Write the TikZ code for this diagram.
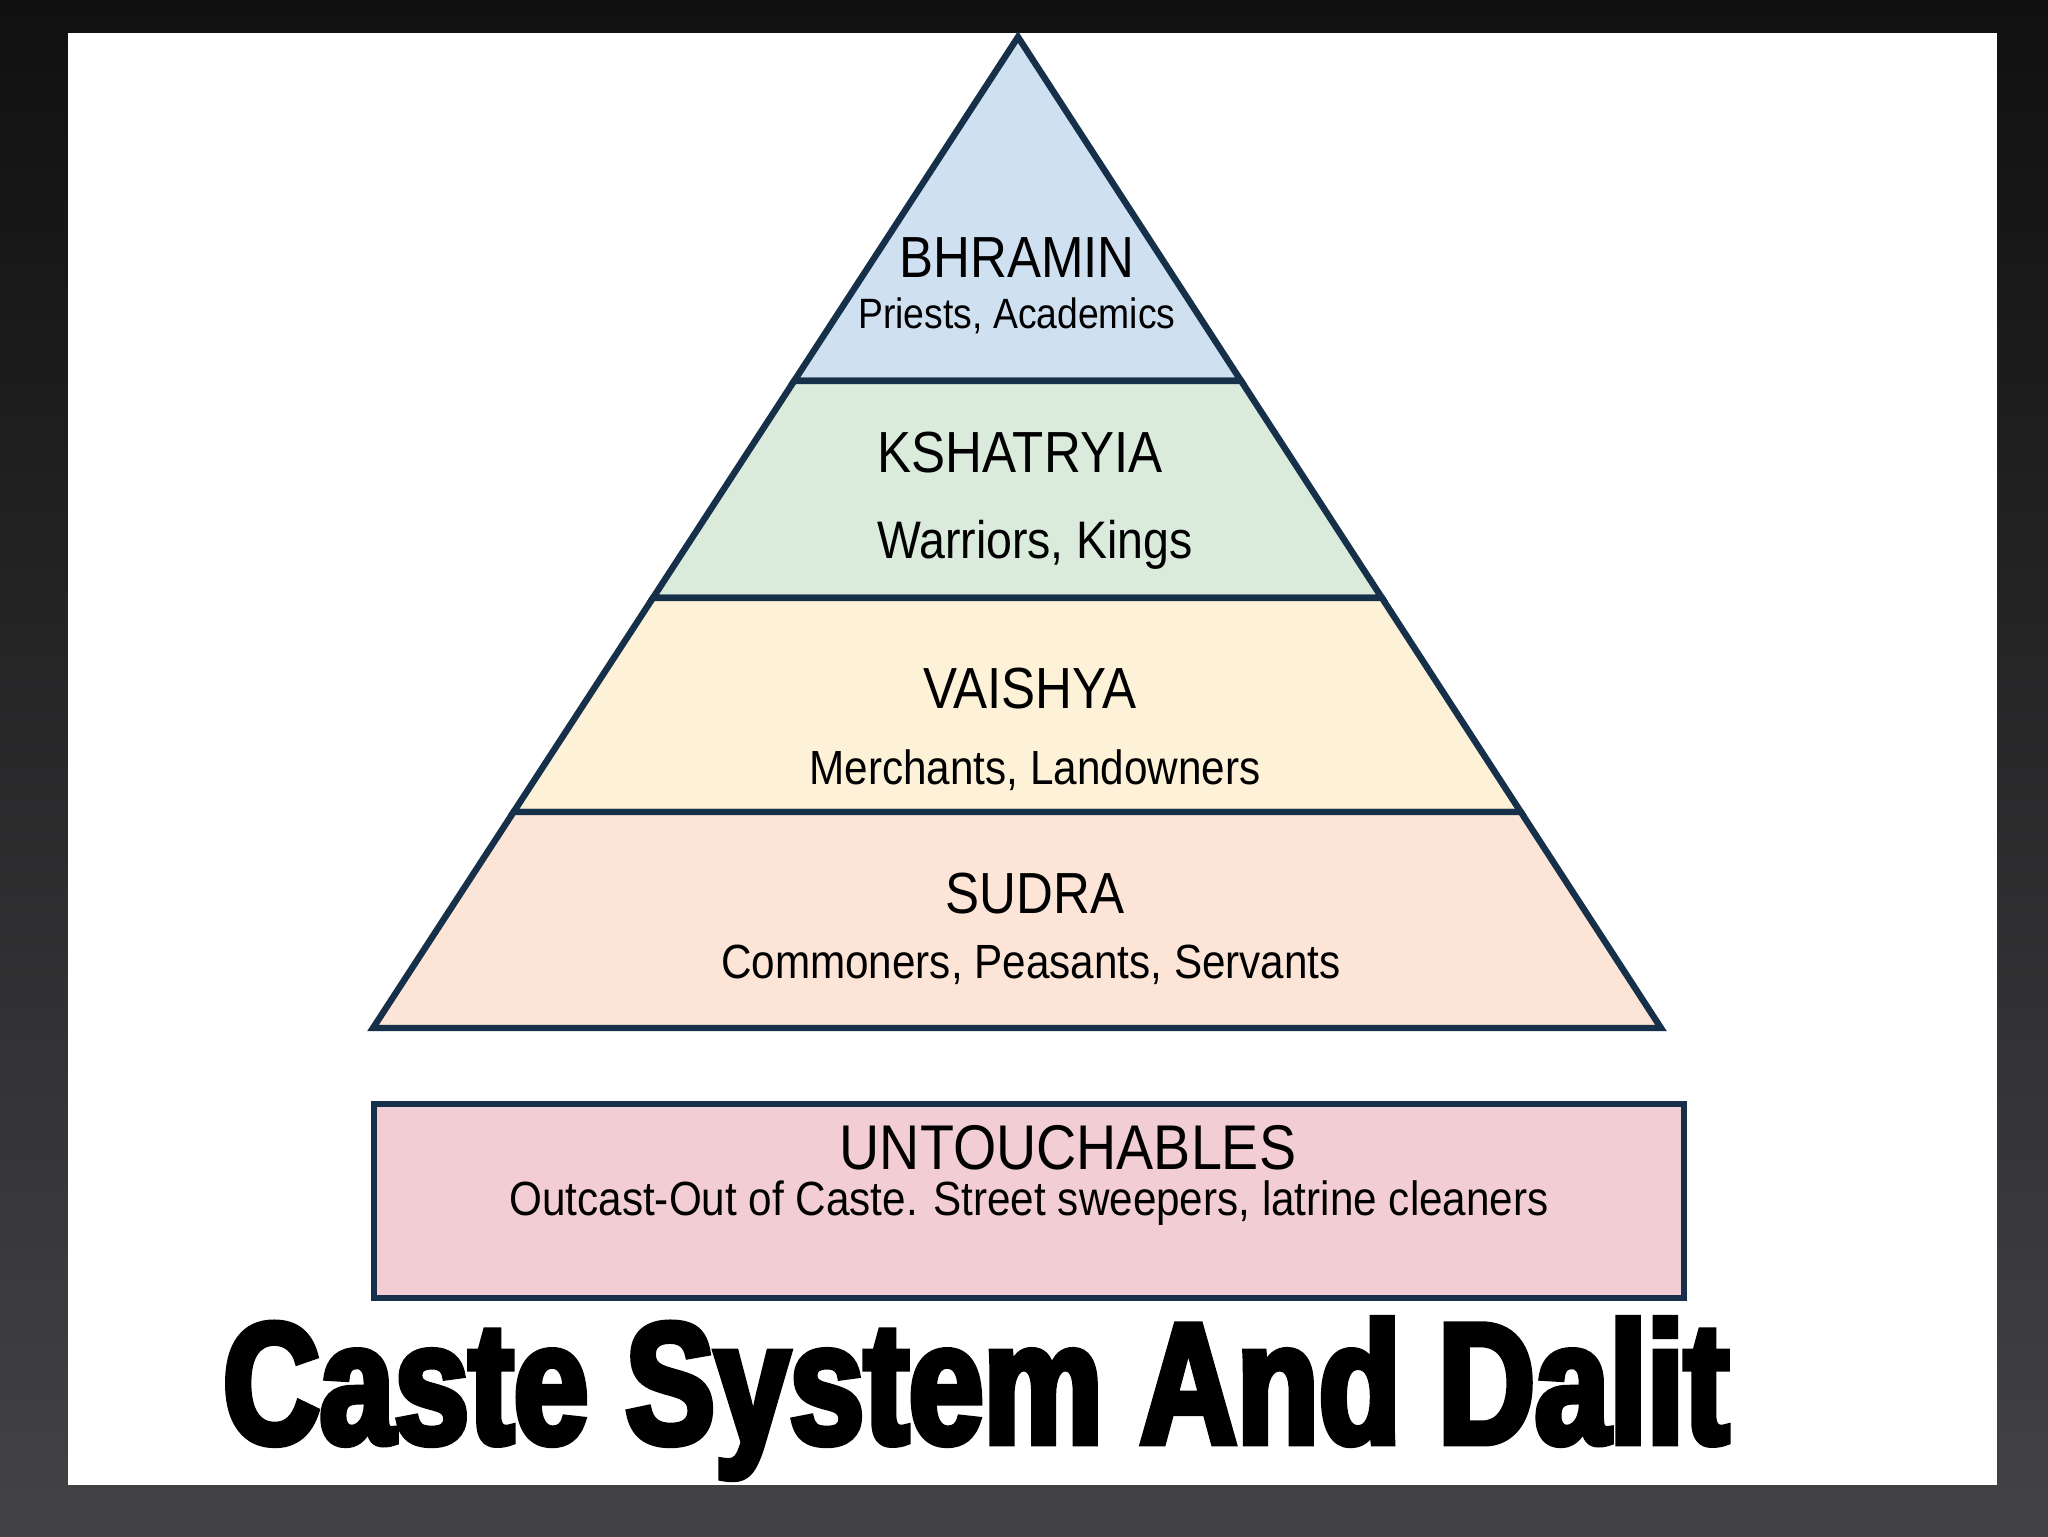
\documentclass[tikz,border=0pt]{standalone}
\usepackage{fontspec}
\usetikzlibrary{calc}
\newfontfamily\labelfont[FakeStretch=0.88]{Liberation Sans}
\newfontfamily\titlefont[FakeStretch=0.78,FakeBold=4]{Liberation Sans}
\definecolor{outline}{HTML}{17304A}
\definecolor{bhraminblue}{HTML}{CFE0F1}
\definecolor{kshatriyagreen}{HTML}{DAEADB}
\definecolor{vaishyacream}{HTML}{FDF1D8}
\definecolor{sudrapeach}{HTML}{FCE4D6}
\definecolor{dalitpink}{HTML}{F2CDD3}
\definecolor{framedark}{HTML}{101010}
\definecolor{framegray}{HTML}{434245}

\begin{document}
\begin{tikzpicture}[x=0.25pt,y=-0.25pt]
  \tikzset{layer/.style={draw=outline,line width=1.6pt,line join=miter},
    caste/.style={font=\labelfont\fontsize{14.5}{16}\selectfont,anchor=base,inner sep=0pt},
    trade/.style={font=\labelfont\fontsize{12}{14}\selectfont,anchor=base,inner sep=0pt}}
  % slide frame
  \shade[top color=framedark,bottom color=framegray] (0,0) rectangle (2048,1536);
  \fill[white] (68,33) rectangle (1997,1485);
  % pyramid
  \coordinate (apex) at (1018,37);
  \coordinate (bl) at (373,1028);
  \coordinate (br) at (1661,1028);
  \foreach \name/\f in {a/0.347,b/0.566,c/0.782}{
    \coordinate (l\name) at ($(apex)!\f!(bl)$);
    \coordinate (r\name) at ($(apex)!\f!(br)$);
  }
  \filldraw[layer,fill=bhraminblue] (apex) -- (ra) -- (la) -- cycle;
  \filldraw[layer,fill=kshatriyagreen] (la) -- (ra) -- (rb) -- (lb) -- cycle;
  \filldraw[layer,fill=vaishyacream] (lb) -- (rb) -- (rc) -- (lc) -- cycle;
  \filldraw[layer,fill=sudrapeach] (lc) -- (rc) -- (br) -- (bl) -- cycle;
  \filldraw[layer,fill=dalitpink] (374,1104) rectangle (1684,1298);
  % labels
  \node[caste] (bhramin) at (1017,277) {BHRAMIN};
  \node[trade,font=\labelfont\fontsize{10.6}{12}\selectfont] (priests) at (1017,328) {Priests, Academics};
  \node[caste] (kshatryia) at (1020,472) {KSHATRYIA};
  \node[trade,font=\labelfont\fontsize{13.2}{15}\selectfont] (warriors) at (1035,558) {Warriors, Kings};
  \node[caste] (vaishya) at (1030,708) {VAISHYA};
  \node[trade] (merchants) at (1035,784) {Merchants, Landowners};
  \node[caste] (sudra) at (1035,913) {SUDRA};
  \node[trade] (commoners) at (1031,978) {Commoners, Peasants, Servants};
  \node[caste,font=\labelfont\fontsize{15.8}{18}\selectfont] (untouchables) at (1068,1169) {UNTOUCHABLES};
  \node[trade] (outcast) at (1029,1215) {Outcast-Out of Caste. Street sweepers, latrine cleaners};
  % title
  \node[font=\titlefont\bfseries\fontsize{43}{48}\selectfont,anchor=base,inner sep=0pt] (title) at (976,1443) {Caste System And Dalit};
\end{tikzpicture}
\end{document}
